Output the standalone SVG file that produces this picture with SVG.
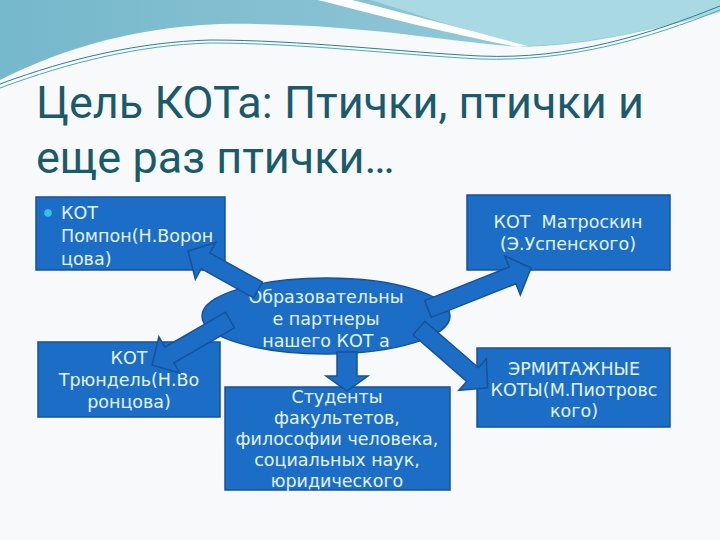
<svg xmlns="http://www.w3.org/2000/svg" width="720" height="540" viewBox="0 0 720 540">
<style>
.box{fill:#1b6dc5;stroke:#16529b;stroke-width:1.5}
.t{font-family:"DejaVu Sans",sans-serif;font-size:17.5px;fill:#e4f4ff;text-anchor:middle}
.tl{text-anchor:start}
.title{font-family:Roboto,"Open Sans",sans-serif;font-size:45px;fill:#1b5a6b}
.arr{fill:#1b6dc5;stroke:#16529b;stroke-width:1.5;stroke-linejoin:miter}
</style>
<defs>
<linearGradient id="wave" x1="0" y1="0" x2="1" y2="0">
<stop offset="0" stop-color="#76b8cc"/>
<stop offset="0.5" stop-color="#88c2d3"/>
<stop offset="1" stop-color="#9fd3de"/>
</linearGradient>
</defs>
<rect width="720" height="540" fill="#f7f9fa"/>
<g id="background">
<path d="M0,0 H720 V12 C660,28 590,46 520,47 C450,42 350,22 220,24 C120,28 50,55 0,80 Z" fill="url(#wave)"/>
<path d="M350,0 H720 V12 C660,28 590,44 525,46 C470,32 410,12 370,0 Z" fill="#a9d9e2"/>
<path d="M318,0 C380,16 450,34 518,47 L528,46 C468,30 400,12 352,0 Z" fill="#ffffff"/>
<path d="M0,84 C70,58 140,42 210,40 C300,40 400,52 480,56 C570,60 650,34 720,6" fill="none" stroke="#2b7f99" stroke-width="1"/>
<path d="M0,88 C70,62 140,45 210,43 C300,43 400,55 480,59 C570,62 650,38 720,10" fill="none" stroke="#52a5bd" stroke-width="1"/>
</g>
<g id="title">
<text class="title" x="36" y="118">Цель КОТа: Птички, птички и</text>
<text class="title" x="36" y="173">еще раз птички…</text>
</g>
<g id="node-pompon">
<rect class="box" x="36" y="197" width="189" height="73"/>
<circle cx="48" cy="213" r="3.8" fill="#31c3e3"/>
<text class="t tl" x="61" y="219">КОТ</text>
<text class="t tl" x="61" y="242">Помпон(Н.Ворон</text>
<text class="t tl" x="61" y="265">цова)</text>
</g>
<g id="node-matroskin">
<rect class="box" x="467" y="195" width="203" height="75"/>
<text class="t" x="568" y="228" xml:space="preserve">КОТ  Матроскин</text>
<text class="t" x="568" y="250">(Э.Успенского)</text>
</g>
<g id="node-center">
<ellipse class="box" cx="326" cy="316" rx="124" ry="38"/>
<text class="t" x="326" y="303">Образовательны</text>
<text class="t" x="326" y="325">е партнеры</text>
<text class="t" x="326" y="347">нашего КОТ а</text>
</g>
<g id="node-tryundel">
<rect class="box" x="38" y="342" width="182" height="75"/>
<text class="t" x="129" y="364">КОТ</text>
<text class="t" x="129" y="386">Трюндель(Н.Во</text>
<text class="t" x="129" y="408">ронцова)</text>
</g>
<g id="node-hermitage">
<rect class="box" x="477" y="348" width="193" height="79"/>
<text class="t" x="574" y="375">ЭРМИТАЖНЫЕ</text>
<text class="t" x="574" y="396">КОТЫ(М.Пиотровс</text>
<text class="t" x="574" y="417">кого)</text>
</g>
<g id="node-students">
<rect class="box" x="225" y="387" width="225" height="103"/>
<text class="t" x="337" y="403">Студенты</text>
<text class="t" x="337" y="424">факультетов,</text>
<text class="t" x="337" y="445">философии человека,</text>
<text class="t" x="337" y="466">социальных наук,</text>
<text class="t" x="337" y="487">юридического</text>
</g>
<g id="connectors">
<path class="arr" transform="translate(258,290) rotate(209.1)" d="M0,-9 H60 V-21 L80,0 L60,21 V9 H0 Z"/>
<path class="arr" transform="translate(230,320) rotate(150)" d="M0,-9 H70 V-21 L90,0 L70,21 V9 H0 Z"/>
<path class="arr" transform="translate(428,309) rotate(-21.7)" d="M0,-9 H91 V-21 L111,0 L91,21 V9 H0 Z"/>
<path class="arr" transform="translate(419,328) rotate(41)" d="M0,-9 H71 V-21 L91,0 L71,21 V9 H0 Z"/>
<path class="arr" transform="translate(347,352) rotate(90)" d="M0,-10 H24 V-21 L39,0 L24,21 V10 H0 Z"/>
</g>
</svg>
